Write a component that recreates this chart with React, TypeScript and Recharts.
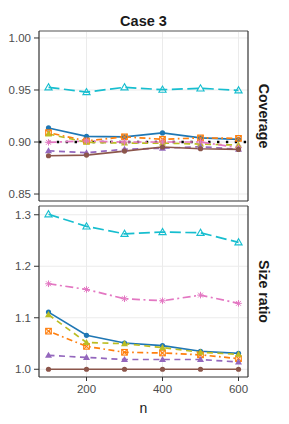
import React from 'react';
import { LineChart, Line, XAxis, YAxis, CartesianGrid, ReferenceLine } from 'recharts';

const nValues = [100, 200, 300, 400, 500, 600];

// Coverage (top panel)
const covBlue = [0.9135, 0.9055, 0.905, 0.9087, 0.904, 0.9026];
const covOrange = [0.909, 0.901, 0.905, 0.9026, 0.904, 0.9035];
const covOlive = [0.9077, 0.8997, 0.899, 0.899, 0.898, 0.897];
const covCyan = [0.9526, 0.948, 0.9526, 0.9503, 0.9516, 0.9497];
const covPink = [0.8997, 0.901, 0.9, 0.9, 0.9, 0.8945];
const covPurple = [0.8916, 0.8897, 0.893, 0.894, 0.8955, 0.893];
const covBrown = [0.8868, 0.8874, 0.8913, 0.8952, 0.8935, 0.8929];
const nominalLevel = 0.9;

// Size ratio (bottom panel)
const ratioBlue = [1.111, 1.066, 1.051, 1.046, 1.035, 1.031];
const ratioOrange = [1.074, 1.0445, 1.033, 1.0316, 1.028, 1.0206];
const ratioOlive = [1.106, 1.052, 1.0497, 1.042, 1.033, 1.029];
const ratioCyan = [1.301, 1.2774, 1.263, 1.2665, 1.265, 1.2465];
const ratioPink = [1.166, 1.155, 1.137, 1.133, 1.144, 1.128];
const ratioPurple = [1.027, 1.023, 1.019, 1.019, 1.019, 1.014];
const ratioBrown = [1.0, 1.0, 1.0, 1.0, 1.0, 1.0];

const xTicks = [200, 400, 600];
const covTicks = [0.85, 0.9, 0.95, 1.0];
const ratioTicks = [1.0, 1.1, 1.2, 1.3];

const titleText = 'Case 3';
const topStrip = 'Coverage';
const bottomStrip = 'Size ratio';
const xLabel = 'n';

type Shape = 'circle' | 'squareX' | 'triFilled' | 'triOpen' | 'asterisk';

const series: { key: string; color: string; shape: Shape; dash?: string; cov: number[]; ratio: number[] }[] = [
  { key: 'blue', color: '#1f77b4', shape: 'circle', dash: undefined, cov: covBlue, ratio: ratioBlue },
  { key: 'orange', color: '#ff7f0e', shape: 'squareX', dash: '1.7 3.4 6 3.4', cov: covOrange, ratio: ratioOrange },
  { key: 'olive', color: '#bcbd22', shape: 'triFilled', dash: '6 4.5', cov: covOlive, ratio: ratioOlive },
  { key: 'cyan', color: '#17becf', shape: 'triOpen', dash: '11 4.5', cov: covCyan, ratio: ratioCyan },
  { key: 'pink', color: '#e377c2', shape: 'asterisk', dash: '8 3.5 2 3.5', cov: covPink, ratio: ratioPink },
  { key: 'purple', color: '#9467bd', shape: 'triFilled', dash: '6 4.5', cov: covPurple, ratio: ratioPurple },
  { key: 'brown', color: '#8c564b', shape: 'circle', dash: undefined, cov: covBrown, ratio: ratioBrown },
];

const topData = nValues.map((n, i) => {
  const row: Record<string, number> = { n };
  series.forEach((s) => (row[s.key] = s.cov[i]));
  return row;
});
const bottomData = nValues.map((n, i) => {
  const row: Record<string, number> = { n };
  series.forEach((s) => (row[s.key] = s.ratio[i]));
  return row;
});

const makeDot = (shape: Shape, color: string) => (props: any) => {
  const { cx, cy, index } = props;
  const k = `d-${index}`;
  if (cx == null || cy == null) return <g key={k} />;
  switch (shape) {
    case 'circle':
      return <circle key={k} cx={cx} cy={cy} r={2.6} fill={color} stroke="none" />;
    case 'squareX':
      return (
        <g key={k} stroke={color} strokeWidth={1.1} fill="none">
          <rect x={cx - 2.8} y={cy - 2.8} width={5.6} height={5.6} />
          <line x1={cx - 2.8} y1={cy - 2.8} x2={cx + 2.8} y2={cy + 2.8} />
          <line x1={cx - 2.8} y1={cy + 2.8} x2={cx + 2.8} y2={cy - 2.8} />
        </g>
      );
    case 'triFilled':
      return (
        <polygon key={k} points={`${cx},${cy - 3.6} ${cx - 3.5},${cy + 2.5} ${cx + 3.5},${cy + 2.5}`} fill={color} stroke="none" />
      );
    case 'triOpen':
      return (
        <polygon key={k} points={`${cx},${cy - 3.6} ${cx - 3.6},${cy + 2.6} ${cx + 3.6},${cy + 2.6}`} fill="none" stroke={color} strokeWidth={1.1} />
      );
    case 'asterisk':
      return (
        <g key={k} stroke={color} strokeWidth={1}>
          <line x1={cx - 3.3} y1={cy} x2={cx + 3.3} y2={cy} />
          <line x1={cx} y1={cy - 3.3} x2={cx} y2={cy + 3.3} />
          <line x1={cx - 2.4} y1={cy - 2.4} x2={cx + 2.4} y2={cy + 2.4} />
          <line x1={cx - 2.4} y1={cy + 2.4} x2={cx + 2.4} y2={cy - 2.4} />
        </g>
      );
  }
  return <g key={k} />;
};

const FONT = '"Liberation Sans", Arial, Helvetica, sans-serif';
const tickStyle = { fontSize: 11.5, fill: '#4d4d4d', fontFamily: FONT };

const PLOT_LEFT = 39;
const PLOT_RIGHT = 248;
const TOP_Y0 = 31;
const TOP_Y1 = 201;
const BOT_Y0 = 206;
const BOT_Y1 = 377;

const renderLines = () =>
  series.map((s) => (
    <Line
      key={s.key}
      dataKey={s.key}
      type="linear"
      stroke={s.color}
      strokeWidth={1.7}
      strokeDasharray={s.dash}
      dot={makeDot(s.shape, s.color)}
      activeDot={false}
      isAnimationActive={false}
    />
  ));

export default function App() {
  return (
    <div style={{ position: 'absolute', left: 0, top: 0, width: 289, height: 424, background: '#fff' }}>
      <div style={{ position: 'absolute', left: 0, top: 0 }}>
        <LineChart width={289} height={210} data={topData} margin={{ top: TOP_Y0, right: 289 - PLOT_RIGHT, bottom: 210 - TOP_Y1, left: 0 }}>
          <CartesianGrid stroke="#ebebeb" strokeWidth={1} verticalValues={xTicks} horizontalValues={covTicks} />
          <XAxis dataKey="n" type="number" domain={[75, 625]} ticks={xTicks} hide allowDataOverflow />
          <YAxis
            type="number"
            width={PLOT_LEFT}
            domain={[0.8433, 1.0067]}
            ticks={covTicks}
            allowDataOverflow
            tickFormatter={(v: number) => v.toFixed(2)}
            tick={tickStyle}
            tickSize={5}
            tickMargin={3}
            axisLine={false}
            tickLine={{ stroke: '#333333' }}
          />
          <ReferenceLine y={nominalLevel} stroke="#000" strokeWidth={2.4} strokeDasharray="2.4 6.5" ifOverflow="visible" />
          {renderLines()}
        </LineChart>
      </div>
      <div style={{ position: 'absolute', left: 0, top: 0 }}>
        <LineChart width={289} height={424} data={bottomData} margin={{ top: BOT_Y0, right: 289 - PLOT_RIGHT, bottom: 0, left: 0 }}>
          <CartesianGrid stroke="#ebebeb" strokeWidth={1} verticalValues={xTicks} horizontalValues={ratioTicks} />
          <XAxis
            dataKey="n"
            type="number"
            domain={[75, 625]}
            ticks={xTicks}
            allowDataOverflow
            height={424 - BOT_Y1}
            tick={tickStyle}
            tickSize={4}
            tickMargin={4}
            axisLine={false}
            tickLine={{ stroke: '#333333' }}
          />
          <YAxis
            type="number"
            width={PLOT_LEFT}
            domain={[0.985, 1.317]}
            ticks={ratioTicks}
            allowDataOverflow
            tickFormatter={(v: number) => v.toFixed(1)}
            tick={tickStyle}
            tickSize={5}
            tickMargin={3}
            axisLine={false}
            tickLine={{ stroke: '#333333' }}
          />
          {renderLines()}
        </LineChart>
      </div>
      <svg width={289} height={424} style={{ position: 'absolute', left: 0, top: 0, pointerEvents: 'none' }}>
        <line x1={PLOT_LEFT} y1={TOP_Y0} x2={PLOT_RIGHT} y2={TOP_Y0} stroke="#a8a8a8" strokeWidth={2} />
        <line x1={PLOT_LEFT} y1={TOP_Y0} x2={PLOT_LEFT} y2={TOP_Y1} stroke="#333" strokeWidth={1.2} />
        <line x1={PLOT_RIGHT} y1={TOP_Y0} x2={PLOT_RIGHT} y2={TOP_Y1} stroke="#333" strokeWidth={1.2} />
        <line x1={PLOT_LEFT} y1={TOP_Y1} x2={PLOT_RIGHT} y2={TOP_Y1} stroke="#333" strokeWidth={1.2} />
        <line x1={PLOT_LEFT} y1={BOT_Y0} x2={PLOT_RIGHT} y2={BOT_Y0} stroke="#a8a8a8" strokeWidth={2} />
        <line x1={PLOT_LEFT} y1={BOT_Y0} x2={PLOT_LEFT} y2={BOT_Y1} stroke="#333" strokeWidth={1.2} />
        <line x1={PLOT_RIGHT} y1={BOT_Y0} x2={PLOT_RIGHT} y2={BOT_Y1} stroke="#333" strokeWidth={1.2} />
        <line x1={PLOT_LEFT} y1={BOT_Y1} x2={PLOT_RIGHT} y2={BOT_Y1} stroke="#333" strokeWidth={1.2} />
        <text x={143.5} y={26} textAnchor="middle" fontFamily={FONT} fontWeight="bold" fontSize={14.5} fill="#1a1a1a">
          {titleText}
        </text>
        <text
          x={264}
          y={116}
          transform="rotate(90 264 116)"
          textAnchor="middle"
          dominantBaseline="central"
          fontFamily={FONT}
          fontWeight="bold"
          fontSize={14.2}
          fill="#1a1a1a"
        >
          {topStrip}
        </text>
        <text
          x={264}
          y={291.5}
          transform="rotate(90 264 291.5)"
          textAnchor="middle"
          dominantBaseline="central"
          fontFamily={FONT}
          fontWeight="bold"
          fontSize={14.2}
          fill="#1a1a1a"
        >
          {bottomStrip}
        </text>
        <text x={143.5} y={413} textAnchor="middle" fontFamily={FONT} fontSize={14} fill="#1a1a1a">
          {xLabel}
        </text>
      </svg>
    </div>
  );
}
